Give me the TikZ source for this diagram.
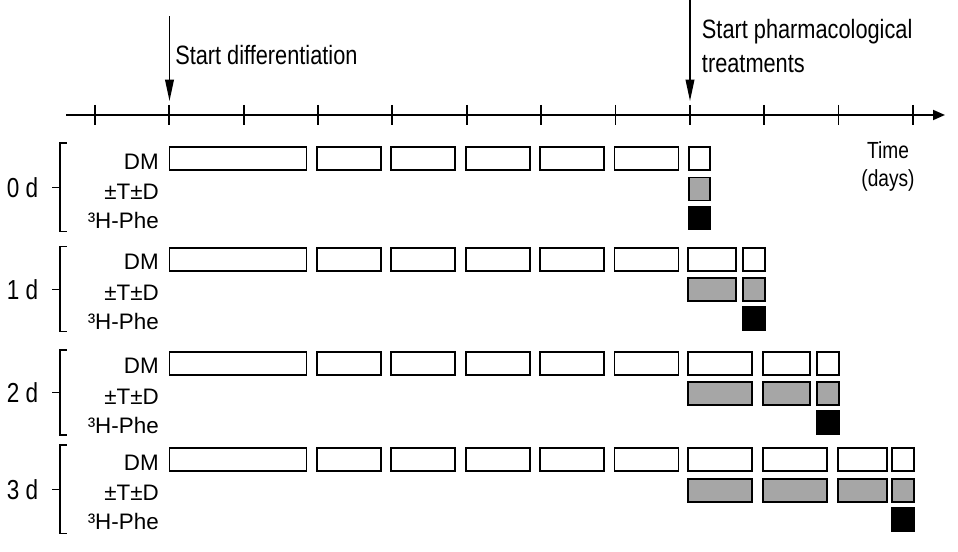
\documentclass[tikz,border=0pt]{standalone}
\usepackage{fontspec}
\setmainfont[FakeStretch=0.82]{Liberation Sans}
\newfontfamily\rowfont{Liberation Sans}
\usetikzlibrary{arrows.meta}
\definecolor{treatgray}{HTML}{A6A6A6}
\tikzset{
    axisline/.style={line width=1.4pt},
    startarrow/.style={line width=1.1pt, -{Triangle[length=16pt,width=6.5pt]}},
    dmbox/.style={draw, line width=1.4pt, fill=white},
    tdbox/.style={draw, line width=1.4pt, fill=treatgray},
    phebox/.style={draw, line width=1.4pt, fill=black},
    bracketline/.style={line width=0.9pt},
    rowlabel/.style={anchor=base east, inner sep=0pt, font=\rowfont\fontsize{16.8}{20}\selectfont},
    grplabel/.style={anchor=base east, inner sep=0pt, font=\fontsize{20.6}{24}\selectfont},
    toplabel/.style={anchor=base west, inner sep=0pt, align=left, font=\fontsize{19.9}{25.5}\selectfont},
}
\begin{document}
\begin{tikzpicture}[x=0.75pt, y=-0.75pt]
\useasboundingbox (0,0) rectangle (958,552);

% time axis
\coordinate (axisstart) at (66,115);
\coordinate (axisend) at (945,115);
\draw[axisline, -{Triangle[length=9pt,width=7.5pt]}] (axisstart) -- (axisend);
\foreach \i in {0,...,11}
    \draw[axisline] ({95+74.35*\i},105) -- ({95+74.35*\i},125);

% base anchor of a two-line node sits on its last line
\node[anchor=base, inner sep=0pt, align=center, font=\fontsize{17.5}{21.3}\selectfont] (timelabel) at (888,186.7) {Time\\(days)};

% start markers
\coordinate (difftop) at (169.5,16.5);
\coordinate (difftip) at (169.5,101);
\draw[startarrow] (difftop) -- (difftip);
\node[toplabel] (difflabel) at (175,65) {Start differentiation};

\coordinate (pharmtop) at (690,0);
\coordinate (pharmtip) at (690,101);
\draw[startarrow] (pharmtop) -- (pharmtip);
\node[toplabel] (pharmlabel) at (701.7,72.7) {Start pharmacological\\treatments};

% groups: index / top of DM row / bracket top / bracket bottom
\foreach \g/\gy/\bt/\bb in {0/147/143/231.7, 1/247.7/246.7/331.7, 2/351.7/350/435, 3/448.3/445/533.3} {
    % bracket and group label
    \draw[bracketline] (66.7,\bt) -- (60,\bt) -- (60,\bb) -- (66.7,\bb);
    \draw[bracketline] (60,{(\bt+\bb)/2}) -- (51.7,{(\bt+\bb)/2});
    \node[grplabel] (grp\g) at (38.5,{(\bt+\bb)/2+10}) {\g\ d};
    % row labels
    \node[rowlabel] (dm\g) at (159,\gy+22.2) {DM};
    \node[rowlabel] (td\g) at (159,\gy+52.7) {±T±D};
    \node[rowlabel] (phe\g) at (159,\gy+81.7) {³H-Phe};
    % differentiation medium before treatment
    \draw[dmbox] (169.5,\gy) rectangle (306.5,\gy+23);
    \foreach \i in {3,...,7}
        \draw[dmbox] ({95+74.35*\i-1},\gy) rectangle ({95+74.35*\i+63},\gy+23);
}

% 0 d
\draw[dmbox] (689.3,147) rectangle (710,170);
\draw[tdbox] (689.3,177.5) rectangle (710,200.5);
\draw[phebox] (689.3,206.5) rectangle (710,229.5);

% 1 d
\foreach \xa/\xb in {688.3/736, 742.7/765} {
    \draw[dmbox] (\xa,247.7) rectangle (\xb,270.7);
    \draw[tdbox] (\xa,278.2) rectangle (\xb,301.2);
}
\draw[phebox] (742.7,307.2) rectangle (765,330.2);

% 2 d
\foreach \xa/\xb in {688.3/752.3, 762.7/810, 816.7/839} {
    \draw[dmbox] (\xa,351.7) rectangle (\xb,374.7);
    \draw[tdbox] (\xa,382.2) rectangle (\xb,405.2);
}
\draw[phebox] (816.7,411.2) rectangle (839,434.2);

% 3 d
\foreach \xa/\xb in {688.3/752.3, 762.7/826.7, 838.3/886.7, 892.3/914} {
    \draw[dmbox] (\xa,448.3) rectangle (\xb,471.3);
    \draw[tdbox] (\xa,478.8) rectangle (\xb,501.8);
}
\draw[phebox] (892.3,507.8) rectangle (914,530.8);
\end{tikzpicture}
\end{document}
